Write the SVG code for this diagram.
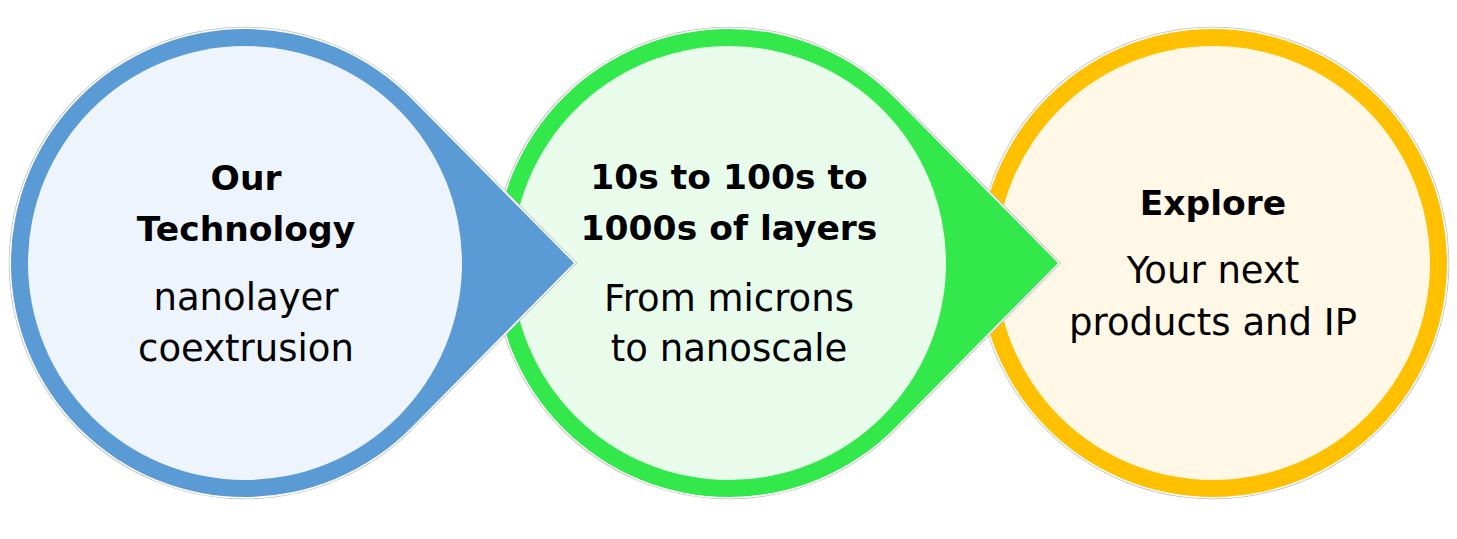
<svg xmlns="http://www.w3.org/2000/svg" xmlns:xlink="http://www.w3.org/1999/xlink" width="1457" height="539" viewBox="0 0 1457 539">
<style>
.halo{fill:none;stroke:#bdbdbd;stroke-width:4.5;stroke-linejoin:miter}
.edge{fill:none;stroke:#ffffff;stroke-width:3;stroke-linejoin:miter}
.t{font-family:"DejaVu Sans","Liberation Sans",sans-serif;fill:#000;text-anchor:middle}
.b{font-weight:bold;font-size:34.5px}
.r{font-size:37px}
</style>
<defs>
<path id="drop" d="M 166.4 -164.5 L 329 0 L 166.4 164.5 A 234 234 0 1 1 166.4 -164.5 Z"/>
<circle id="disc" cx="0" cy="0" r="234"/>
</defs>
<rect width="1457" height="539" fill="#ffffff"/>
<g id="node-explore" transform="translate(1213,263)">
<use xlink:href="#disc" class="halo"/>
<use xlink:href="#disc" class="edge"/>
<use xlink:href="#disc" fill="#FFC000"/>
<circle r="217" fill="#FFF8E6"/>
<text class="t b" x="0" y="-48">Explore</text>
<text class="t r" x="0" y="20">Your next</text>
<text class="t r" x="0" y="72">products and IP</text>
</g>
<g id="node-layers" transform="translate(729,263)">
<use xlink:href="#drop" class="halo"/>
<use xlink:href="#drop" class="edge"/>
<use xlink:href="#drop" fill="#32E84B"/>
<circle r="217" fill="#E9FCEC"/>
<text class="t b" x="0" y="-74">10s to 100s to</text>
<text class="t b" x="0" y="-23">1000s of layers</text>
<text class="t r" x="0" y="48">From microns</text>
<text class="t r" x="0" y="98">to nanoscale</text>
</g>
<g id="node-technology" transform="translate(245,263)">
<use xlink:href="#drop" class="halo"/>
<use xlink:href="#drop" class="edge"/>
<use xlink:href="#drop" fill="#5B9BD5"/>
<circle r="217" fill="#EEF4FC"/>
<text class="t b" x="1" y="-73">Our</text>
<text class="t b" x="1" y="-22">Technology</text>
<text class="t r" x="1" y="47">nanolayer</text>
<text class="t r" x="1" y="98">coextrusion</text>
</g>
<g id="connectors"></g>
</svg>
